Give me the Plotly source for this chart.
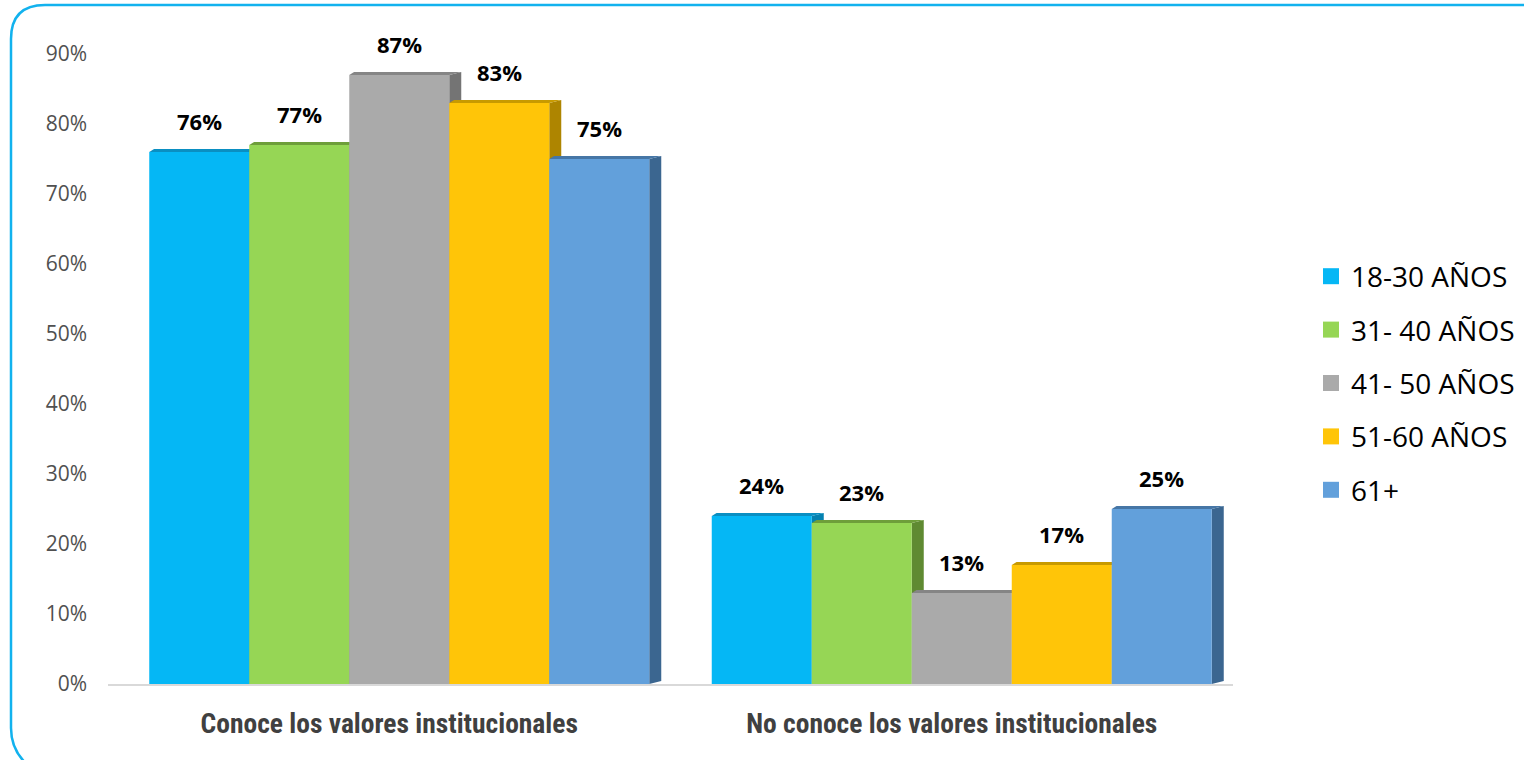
import plotly.graph_objects as go

categories = ["Conoce los valores institucionales", "No conoce los valores institucionales"]
series_names = ["18-30 AÑOS", "31- 40 AÑOS", "41- 50 AÑOS", "51-60 AÑOS", "61+"]
values_18_30 = [76, 24]
values_31_40 = [77, 23]
values_41_50 = [87, 13]
values_51_60 = [83, 17]
values_61 = [75, 25]
series_values = [values_18_30, values_31_40, values_41_50, values_51_60, values_61]

front_colors = ["#05B7F5", "#96D655", "#AAAAAA", "#FFC508", "#62A0DB"]
side_colors = ["#0481B0", "#5F8A32", "#747474", "#AE8500", "#3B6690"]
top_colors = ["#0A8FC2", "#6E9E3A", "#858585", "#C89A00", "#4676A6"]

W, H = 1524, 760
ML, MR, MT, MB = 108, 291, 54, 76
PW = W - ML - MR
PH = H - MT - MB
YMAX = 90

bar_w = 100 / (PW / 2.0)          # data units of x (range width 2)
shift = 10 / (PW / 2.0)
dx = 12 / (PW / 2.0)
dy = 3 * YMAX / PH

fig = go.Figure()
shapes = []
annotations = []
x_pos = list(range(len(categories)))

for i, (name, vals) in enumerate(zip(series_names, series_values)):
    off = -2.5 * bar_w + i * bar_w + shift
    fig.add_trace(go.Bar(
        x=x_pos, y=vals, name=name, width=bar_w, offset=off,
        marker=dict(color=front_colors[i], line=dict(width=0)),
        showlegend=False, hoverinfo="y",
    ))
    fig.add_trace(go.Scatter(
        x=[None], y=[None], mode="markers", name=name,
        marker=dict(symbol="square", size=18, color=front_colors[i]),
        legendgroup=name, showlegend=True,
    ))
    for g, v in zip(x_pos, vals):
        L = g + off
        R = L + bar_w
        shapes.append(dict(
            type="path", xref="x", yref="y", layer="below",
            path=f"M{R},0 L{R+dx},{dy} L{R+dx},{v+dy} L{R},{v} Z",
            fillcolor=side_colors[i], line=dict(width=0)))
        shapes.append(dict(
            type="path", xref="x", yref="y", layer="below",
            path=f"M{L},{v} L{L+dx*0.4},{v+dy} L{R+dx},{v+dy} L{R},{v} Z",
            fillcolor=top_colors[i], line=dict(width=0)))
        annotations.append(dict(
            x=L + bar_w / 2, y=v, xref="x", yref="y", text=f"<b>{v}%</b>",
            showarrow=False, yanchor="middle", yshift=31,
            font=dict(family="Open Sans", size=22, color="#000000")))

# rounded border (decoration)
def px2x(p):
    return (p - ML) / PW

def py2y(p):
    return (H - MB - p) / PH

x0, y0, x1, r = 11, 5, 1560, 34
border = (f"M{px2x(x0 + r)},{py2y(y0)} L{px2x(x1)},{py2y(y0)} "
          f"M{px2x(x0 + r)},{py2y(y0)} Q{px2x(x0)},{py2y(y0)} {px2x(x0)},{py2y(y0 + r)} "
          f"L{px2x(x0)},{py2y(728)} Q{px2x(x0)},{py2y(758)} {px2x(x0 + 30)},{py2y(774)}")
shapes.append(dict(type="path", xref="paper", yref="paper", path=border,
                   line=dict(color="#12B2EE", width=2.5), layer="above"))

fig.update_layout(
    width=W, height=H,
    margin=dict(l=ML, r=MR, t=MT, b=MB, autoexpand=False),
    paper_bgcolor="white", plot_bgcolor="white",
    barmode="overlay",
    shapes=shapes, annotations=annotations,
    showlegend=True,
    legend=dict(x=px2x(1311), xanchor="left", y=py2y(383), yanchor="middle",
                font=dict(family="Open Sans", size=28, color="#000000"),
                tracegroupgap=14, bgcolor="rgba(0,0,0,0)"),
    xaxis=dict(range=[-0.5, 1.5], tickvals=x_pos, ticktext=categories,
               showgrid=False, zeroline=False, showline=True,
               linecolor="#D9D9D9", linewidth=2, ticks="",
               ticklabelstandoff=14,
               tickfont=dict(family="Liberation Sans Narrow, Roboto Condensed, Liberation Sans",
                             size=27.5, color="#404040", weight="bold"),
               fixedrange=True),
    yaxis=dict(range=[0, YMAX], dtick=10, ticksuffix="%", showgrid=False,
               zeroline=False, showline=False, ticks="",
               ticklabelstandoff=20,
               tickfont=dict(family="Open Sans", size=21, color="#505050"),
               fixedrange=True),
)

fig.write_html("out.html", config={"displayModeBar": False},
               post_script="document.body.style.margin='0';document.body.style.overflow='hidden';")
